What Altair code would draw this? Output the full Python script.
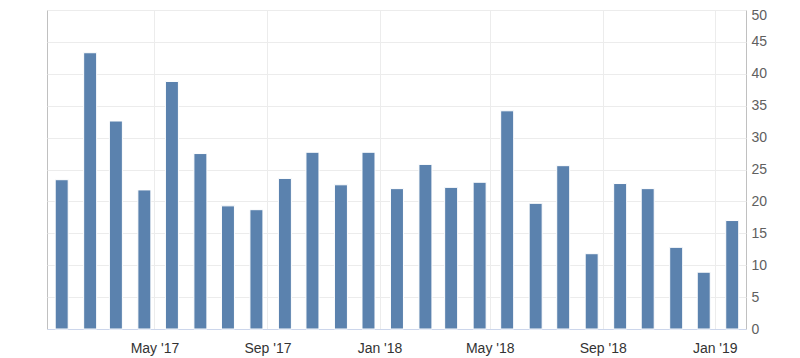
import altair as alt
import pandas as pd

months = [
    "2017-01-20", "2017-02-20", "2017-03-20", "2017-04-20", "2017-05-20",
    "2017-06-20", "2017-07-20", "2017-08-20", "2017-09-20", "2017-10-20",
    "2017-11-20", "2017-12-20", "2018-01-20", "2018-02-20", "2018-03-20",
    "2018-04-20", "2018-05-20", "2018-06-20", "2018-07-20", "2018-08-20",
    "2018-09-20", "2018-10-20", "2018-11-20", "2018-12-20", "2019-01-20",
]
values = [
    23.4, 43.3, 32.6, 21.8, 38.8, 27.5, 19.3, 18.7, 23.6, 27.7,
    22.6, 27.7, 22.0, 25.8, 22.2, 23.0, 34.2, 19.7, 25.6, 11.8,
    22.8, 22.0, 12.8, 8.9, 17.0,
]
tick_dates = [(2017, 5), (2017, 9), (2018, 1), (2018, 5), (2018, 9), (2019, 1)]
y_ticks = [0, 5, 10, 15, 20, 25, 30, 35, 40, 45, 50]

df = pd.DataFrame({"date": months, "value": values})

x_vals = [alt.DateTime(year=y, month=m, date=1, utc=True) for y, m in tick_dates]

chart = (
    alt.Chart(df)
    .mark_bar(color="#5b82ae", size=13, stroke="#ffffff", strokeWidth=1)
    .encode(
        x=alt.X(
            "date:T",
            scale=alt.Scale(
                type="utc",
                padding=0,
                domain=[
                    alt.DateTime(year=2017, month=1, date=4, utc=True),
                    alt.DateTime(year=2019, month=2, date=4, utc=True),
                ],
            ),
            axis=alt.Axis(
                title=None,
                values=x_vals,
                labelExpr="utcFormat(datum.value, \"%b '%y\")",
                grid=True,
                gridColor="#ececec",
                ticks=False,
                domainColor="#ccd6eb",
                labelColor="#333333",
                labelFontSize=14,
                labelFont="Liberation Sans",
                labelPadding=12,
            ),
        ),
        y=alt.Y(
            "value:Q",
            scale=alt.Scale(domain=[0, 50], nice=False),
            axis=alt.Axis(
                title=None,
                orient="right",
                values=y_ticks,
                grid=True,
                gridColor="#ececec",
                ticks=False,
                domain=False,
                labelColor="#606060",
                labelFontSize=14,
                labelFont="Liberation Sans",
                labelPadding=5,
                labelOffset={"condition": {"test": "datum.value >= 50", "value": 5}, "value": 0},
            ),
        ),
        tooltip=["date:T", "value:Q"],
    )
    .properties(
        width=699,
        height=319,
        autosize="none",
        padding={"left": 39, "top": 2, "right": 45, "bottom": 29},
    )
    .configure_view(stroke="#c0c0c0", strokeWidth=1)
)

chart.save("out.html", embed_options={"renderer": "svg", "actions": False})
